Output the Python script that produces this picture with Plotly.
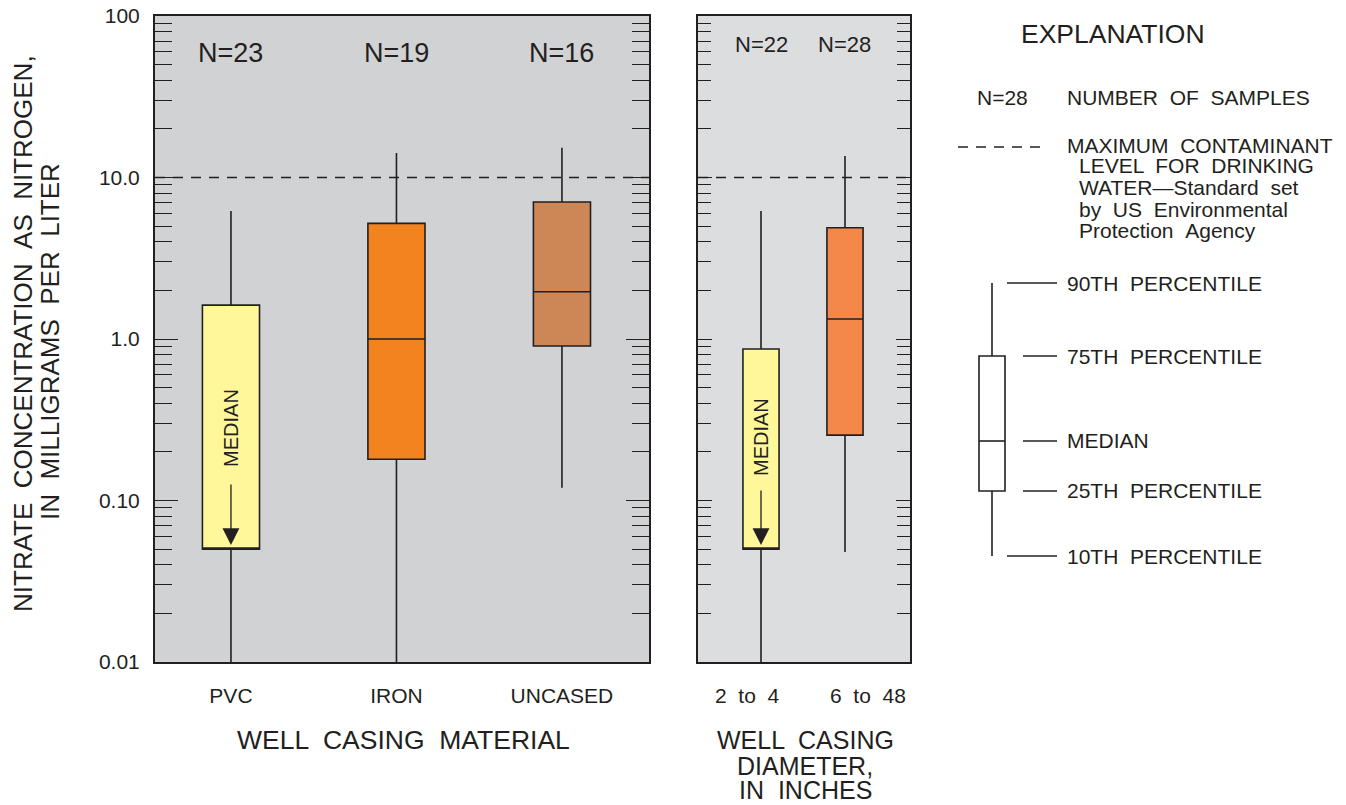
import math
import plotly.graph_objects as go

# ---- data: nitrate as N (mg/L), percentile summaries per group ----
material = ["PVC", "IRON", "UNCASED"]
material_n = [23, 19, 16]
material_p10 = [0.004, 0.004, 0.12]
material_p25 = [0.05, 0.18, 0.905]
material_med = [0.05, 1.0, 1.96]
material_p75 = [1.62, 5.2, 7.05]
material_p90 = [6.2, 14.2, 15.3]
material_colors = ["#fff799", "#f3831f", "#cd8757"]

diameter = ["2  to  4", "6  to  48"]
diameter_n = [22, 28]
diameter_p10 = [0.004, 0.048]
diameter_p25 = [0.05, 0.254]
diameter_med = [0.05, 1.33]
diameter_p75 = [0.867, 4.88]
diameter_p90 = [6.2, 13.6]
diameter_colors = ["#fff799", "#f4874a"]

mcl = 10.0  # drinking-water maximum contaminant level
y_ticks = [0.01, 0.1, 1, 10, 100]
y_ticktext = ["0.01", "0.10", "1.0", "10.0", "100"]

W, H = 1346, 805
INK = "#231f20"
FONT = "Liberation Sans, Arial, Helvetica, sans-serif"
NB = "\u00a0"


def px(x):
    return x / W


def py(y):
    return 1 - y / H


def wide(s):
    # widen the gaps between words
    return s.replace(" ", " " + NB)


fig = go.Figure()

for name, lo, q1, md, q3, hi, col in zip(material, material_p10, material_p25,
                                         material_med, material_p75, material_p90, material_colors):
    fig.add_trace(go.Box(x=[name], q1=[q1], median=[md], q3=[q3], lowerfence=[lo], upperfence=[hi],
                         width=0.345, whiskerwidth=0, fillcolor=col,
                         line=dict(color=INK, width=1.6), xaxis="x", yaxis="y",
                         showlegend=False, hoverinfo="skip"))

for name, lo, q1, md, q3, hi, col in zip(diameter, diameter_p10, diameter_p25,
                                         diameter_med, diameter_p75, diameter_p90, diameter_colors):
    fig.add_trace(go.Box(x=[name], q1=[q1], median=[md], q3=[q3], lowerfence=[lo], upperfence=[hi],
                         width=0.43, whiskerwidth=0, fillcolor=col,
                         line=dict(color=INK, width=1.6), xaxis="x2", yaxis="y2",
                         showlegend=False, hoverinfo="skip"))

minor_vals = [m * 10 ** e for e in range(-2, 2) for m in range(2, 10)]

yax_common = dict(type="log", range=[-2, 2], tickmode="array", tickvals=y_ticks,
                  ticktext=y_ticktext, ticks="inside", tickcolor=INK, tickwidth=1.3,
                  showgrid=False, zeroline=False, showline=True, linecolor=INK, linewidth=2,
                  mirror="ticks", automargin=False,
                  tickfont=dict(size=21, color=INK, family=FONT))

xax_common = dict(type="category", showgrid=False, zeroline=False, showline=True,
                  linecolor=INK, linewidth=2, mirror=True, ticks="", automargin=False,
                  tickfont=dict(size=21, color=INK, family=FONT), ticklabelstandoff=14)

fig.update_layout(
    template="none",
    width=W, height=H, autosize=False,
    margin=dict(l=0, r=0, t=0, b=0, autoexpand=False),
    paper_bgcolor="white", plot_bgcolor="rgba(0,0,0,0)",
    font=dict(family=FONT, color=INK),
    xaxis=dict(domain=[px(155), px(649)], range=[-0.459, 2.526], anchor="y", **xax_common),
    yaxis=dict(domain=[py(662), py(16)], anchor="x", ticklen=23, ticklabelstandoff=9,
               minor=dict(tickmode="array", tickvals=minor_vals, ticks="inside", ticklen=17,
                          tickcolor=INK, tickwidth=1.3),
               **yax_common),
    xaxis2=dict(domain=[px(698), px(910)], range=[-0.75, 1.774], anchor="y2",
                **{**xax_common, "showticklabels": False}),
    yaxis2=dict(domain=[py(662), py(16)], anchor="x2", ticklen=14, showticklabels=False,
                minor=dict(tickmode="array", tickvals=minor_vals, ticks="inside", ticklen=13,
                           tickcolor=INK, tickwidth=1.3),
                **yax_common),
)

shapes = []
# panel backgrounds
shapes.append(dict(type="rect", xref="x domain", yref="y domain", x0=0, x1=1, y0=0, y1=1,
                   fillcolor="#d1d2d4", line=dict(width=0), layer="below"))
shapes.append(dict(type="rect", xref="x2 domain", yref="y2 domain", x0=0, x1=1, y0=0, y1=1,
                   fillcolor="#dcdddf", line=dict(width=0), layer="below"))
# MCL reference line in both panels
for xr, yr in (("x domain", "y"), ("x2 domain", "y2")):
    shapes.append(dict(type="line", xref=xr, yref=yr, x0=0, x1=1, y0=mcl, y1=mcl,
                       line=dict(color=INK, width=1.5, dash="10px,8px"), layer="above"))

# explanation: dashed-line key
shapes.append(dict(type="line", xref="paper", yref="paper", x0=px(958), x1=px(1046),
                   y0=py(147), y1=py(147), line=dict(color=INK, width=1.5, dash="10px,8px")))
# explanation: box key
kx0, kx1, kxc = 979, 1005, 992
k90, k75, kmd, k25, k10 = 283, 356, 441, 491, 556
shapes += [
    dict(type="line", xref="paper", yref="paper", x0=px(kxc), x1=px(kxc), y0=py(k90), y1=py(k75),
         line=dict(color=INK, width=1.6)),
    dict(type="line", xref="paper", yref="paper", x0=px(kxc), x1=px(kxc), y0=py(k25), y1=py(k10),
         line=dict(color=INK, width=1.6)),
    dict(type="rect", xref="paper", yref="paper", x0=px(kx0), x1=px(kx1), y0=py(k25), y1=py(k75),
         line=dict(color=INK, width=1.6), fillcolor="white"),
    dict(type="line", xref="paper", yref="paper", x0=px(kx0), x1=px(kx1), y0=py(kmd), y1=py(kmd),
         line=dict(color=INK, width=1.6)),
]
for yy, x0 in ((k90, 1007), (k75, 1023), (kmd, 1023), (k25, 1023), (k10, 1007)):
    shapes.append(dict(type="line", xref="paper", yref="paper", x0=px(x0), x1=px(1057),
                       y0=py(yy), y1=py(yy), line=dict(color=INK, width=1.3)))
fig.update_layout(shapes=shapes)

ann = []


def text(x, y, s, size, xanchor="center", angle=0):
    ann.append(dict(xref="paper", yref="paper", x=px(x), y=py(y), text=s, showarrow=False,
                    xanchor=xanchor, yanchor="middle", textangle=angle,
                    font=dict(size=size, color=INK, family=FONT)))


# sample counts
for name, n in zip(material, material_n):
    ann.append(dict(xref="x", yref="paper", x=name, y=py(53), text=f"N={n}", showarrow=False,
                    yanchor="middle", font=dict(size=27, color=INK, family=FONT)))
for name, n in zip(diameter, diameter_n):
    ann.append(dict(xref="x2", yref="paper", x=name, y=py(45), text=f"N={n}", showarrow=False,
                    yanchor="middle", font=dict(size=22, color=INK, family=FONT)))

# diameter class labels beneath the second panel
for name, shift in zip(diameter, (-14, 23)):
    ann.append(dict(xref="x2", yref="paper", x=name, y=py(695), xshift=shift,
                    text=name.replace("  ", " " + NB), showarrow=False, yanchor="middle",
                    font=dict(size=21, color=INK, family=FONT)))

# median-below-box markers
for xr, yr, cat, ytxt, tail in (("x", "y", material[0], 428, 62), ("x2", "y2", diameter[0], 437, 56)):
    ann.append(dict(xref=xr, yref=yr, x=cat, y=math.log10(0.053), ax=0, ay=-tail,
                    showarrow=True, arrowhead=2, arrowsize=2.6, arrowwidth=1.3, arrowcolor=INK,
                    text=""))
    ann.append(dict(xref=xr, yref="paper", x=cat, y=py(ytxt), text="MEDIAN", showarrow=False,
                    textangle=-90, font=dict(size=20, color=INK, family=FONT)))

# axis titles
text(23, 334, wide("NITRATE CONCENTRATION AS NITROGEN,"), 26, angle=-90)
text(50, 342, wide("IN MILLIGRAMS PER LITER"), 26, angle=-90)
text(403, 740, wide("WELL CASING MATERIAL"), 26.5)
text(805, 740, wide("WELL CASING"), 25)
text(805, 766, "DIAMETER,", 25)
text(805, 790, wide("IN INCHES"), 25)

# explanation text
text(1113, 34, "EXPLANATION", 26.5)
text(975, 98, "N=28", 21, xanchor="left")
text(1065, 98, wide("NUMBER OF SAMPLES"), 21, xanchor="left")
text(1065, 145, wide("MAXIMUM CONTAMINANT"), 21, xanchor="left")
text(1077, 166, wide("LEVEL FOR DRINKING"), 21, xanchor="left")
text(1077, 188, "WATER\u2014Standard" + NB + " set", 21, xanchor="left")
text(1077, 209, wide("by US Environmental"), 21, xanchor="left")
text(1077, 230, wide("Protection Agency"), 21, xanchor="left")
for yy, lab in ((k90, "90TH PERCENTILE"), (k75, "75TH PERCENTILE"), (kmd, "MEDIAN"),
                (k25, "25TH PERCENTILE"), (k10, "10TH PERCENTILE")):
    text(1065, yy, wide(lab), 21, xanchor="left")

fig.update_layout(annotations=ann)
fig.write_html("out.html")
